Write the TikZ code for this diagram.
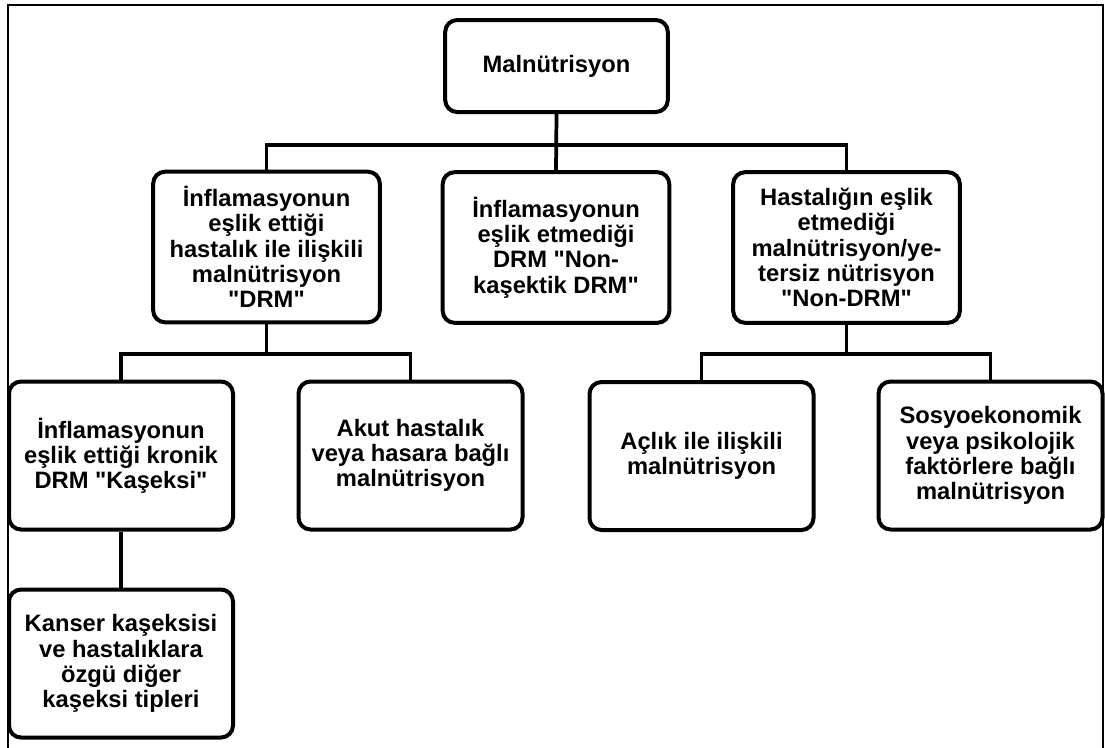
\documentclass[tikz,border=0pt]{standalone}
\usepackage{fontspec}
\setmainfont{Liberation Sans}[Ligatures=TeXOff]
\begin{document}
\begin{tikzpicture}[x=0.75pt,y=-0.75pt,
  box/.style={draw, line width=3pt, rounded corners=9pt, align=center, inner sep=1pt,
    font=\fontsize{17.8}{18.9}\selectfont\bfseries},
  topbox/.style={box, minimum width=170pt, minimum height=113pt},
  lowbox/.style={box, minimum width=168pt, minimum height=111pt},
  link/.style={line width=2.8pt}]
\useasboundingbox (0,0) rectangle (1105,747);
\draw[line width=1pt] (8,760) -- (8,5) -- (1103,5) -- (1103,760);

\node[box, minimum width=167pt, minimum height=69pt] (M) at (556.5,66) {Malnütrisyon};

\node[topbox] (A) at (266.5,247) {İnflamasyonun\\eşlik ettiği\\hastalık ile ilişkili\\malnütrisyon\\"DRM"};
\node[topbox] (B) at (556,247.5) {İnflamasyonun\\eşlik etmediği\\DRM "Non-\\kaşektik DRM"};
\node[topbox] (C) at (846.5,247.5) {Hastalığın eşlik\\etmediği\\malnütrisyon/ye-\\tersiz nütrisyon\\"Non-DRM"};

\node[lowbox] (D) at (121,455.5) {İnflamasyonun\\eşlik ettiği kronik\\DRM "Kaşeksi"};
\node[lowbox] (E) at (410.5,455.5) {Akut hastalık\\veya hasara bağlı\\malnütrisyon};
\node[lowbox] (F) at (701.5,456) {Açlık ile ilişkili\\malnütrisyon};
\node[lowbox] (G) at (990.5,455.5) {Sosyoekonomik\\veya psikolojik\\faktörlere bağlı\\malnütrisyon};

\node[lowbox] (H) at (121,663.5) {Kanser kaşeksisi\\ve hastalıklara\\özgü diğer\\kaşeksi tipleri};

\draw[link] (M.south) -- ++(0,31) -| (A.north);
\draw[link] (M.south) -- ++(0,31) -| (C.north);
\draw[link] (M.south) -- (B.north);

\draw[link] (A.south) -- ++(0,30) -| (D.north);
\draw[link] (A.south) -- ++(0,30) -| (E.north);

\draw[link] (C.south) -- ++(0,29) -| (F.north);
\draw[link] (C.south) -- ++(0,29) -| (G.north);

\draw[link] (D.south) -- (H.north);
\end{tikzpicture}
\end{document}
